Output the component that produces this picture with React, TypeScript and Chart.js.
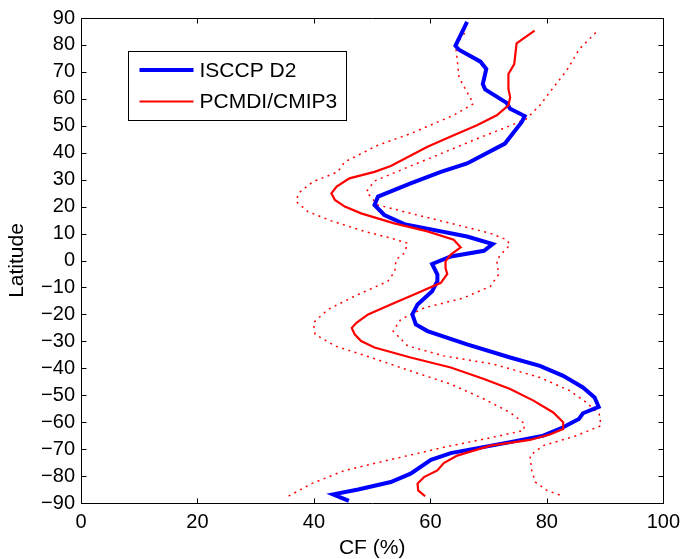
import React, { useEffect, useRef } from "react";
import { Chart, registerables } from "chart.js";

Chart.register(...registerables);

// ---------------- data ----------------
const seriesLabels = ["ISCCP D2", "PCMDI/CMIP3"];

const xTickValues = [0, 20, 40, 60, 80, 100];
const yTickValues = [-90, -80, -70, -60, -50, -40, -30, -20, -10, 0, 10, 20, 30, 40, 50, 60, 70, 80, 90];

// ISCCP D2 (blue, thick)
const isccpLat = [88.6, 79.7, 78.2, 73.8, 71.1, 65.5, 63.5, 58.5, 56.3, 53.6, 51.4, 43.4, 36.0, 32.9, 28.6, 23.7, 20.6, 16.9, 13.5, 8.9, 6.1, 3.6, 1.5, -1.3, -5.2, -7.7, -11.4, -16.3, -20.0, -23.7, -26.2, -31.1, -36.0, -39.1, -42.8, -47.1, -50.8, -54.3, -56.7, -58.8, -61.9, -65.0, -67.4, -71.5, -74.0, -79.1, -82.2, -85.0, -86.8, -89.2];
const isccpCF = [66.3, 64.3, 64.9, 68.6, 69.6, 69.0, 69.4, 73.1, 73.7, 76.2, 75.7, 72.8, 66.3, 61.8, 56.6, 51.0, 50.4, 52.1, 55.5, 66.3, 70.7, 69.2, 63.5, 60.3, 61.2, 61.2, 60.3, 57.8, 56.9, 57.5, 59.5, 66.3, 73.7, 78.8, 82.8, 86.2, 88.2, 88.9, 86.2, 85.5, 82.8, 79.4, 73.7, 63.5, 60.1, 56.6, 53.2, 47.6, 43.3, 46.0];

// PCMDI/CMIP3 multi-model mean (red solid)
const cmipLat = [85.3, 80.6, 72.9, 69.2, 63.7, 60.6, 57.6, 53.9, 50.2, 46.5, 42.2, 35.1, 32.9, 30.5, 27.4, 24.9, 22.5, 20.0, 17.5, 13.8, 10.8, 7.7, 4.9, 2.2, -0.3, -2.8, -5.0, -8.3, -12.6, -16.3, -20.0, -23.1, -25.0, -27.4, -29.9, -32.3, -36.0, -39.7, -44.0, -47.7, -52.0, -56.4, -60.0, -62.5, -64.6, -66.6, -68.7, -72.4, -75.2, -77.9, -80.4, -82.8, -85.3, -87.5];
const cmipCF = [77.9, 74.8, 74.4, 73.4, 73.4, 73.7, 73.4, 71.4, 68.0, 64.0, 59.5, 53.2, 50.4, 46.1, 43.9, 43.0, 43.6, 45.3, 48.1, 53.8, 59.5, 64.0, 65.2, 63.5, 62.6, 62.6, 62.9, 61.8, 57.2, 53.2, 49.3, 47.3, 46.5, 47.0, 48.1, 50.4, 56.6, 63.5, 69.2, 73.7, 77.7, 81.1, 82.8, 82.8, 80.5, 77.1, 70.3, 64.6, 62.3, 61.2, 58.9, 57.8, 57.9, 59.1];

// PCMDI/CMIP3 lower bound (red dotted)
const cmipLowLat = [84.4, 80.0, 74.8, 68.0, 61.3, 58.2, 53.9, 47.1, 42.8, 36.6, 32.9, 29.2, 24.9, 21.8, 18.1, 14.7, 10.8, 8.3, 6.4, 2.7, 0.3, -4.0, -7.7, -13.2, -18.2, -23.1, -27.4, -31.7, -36.0, -41.0, -45.9, -51.4, -56.4, -60.6, -63.1, -65.8, -69.3, -73.6, -77.9, -82.8, -87.5];
const cmipLowCF = [65.9, 64.3, 64.6, 64.9, 66.6, 67.4, 64.0, 56.6, 51.0, 45.3, 44.1, 39.8, 37.3, 37.0, 39.0, 43.0, 48.7, 53.2, 56.1, 55.5, 54.1, 53.9, 52.7, 47.0, 42.4, 39.9, 40.2, 43.6, 49.8, 56.6, 63.5, 69.2, 73.7, 76.2, 76.0, 70.3, 62.3, 53.8, 45.3, 39.6, 35.6];

// PCMDI/CMIP3 upper bound (red dotted)
const cmipHighLat = [84.6, 78.5, 70.5, 65.0, 57.6, 52.6, 49.5, 45.2, 39.1, 34.1, 29.5, 25.5, 20.6, 17.5, 13.8, 10.1, 7.7, 5.8, 3.4, 0.3, -5.2, -9.6, -13.9, -17.6, -21.9, -26.2, -31.7, -35.4, -38.5, -43.4, -48.3, -52.7, -57.0, -61.3, -65.0, -68.7, -72.4, -77.9, -82.2, -85.3, -87.5];
const cmipHighCF = [88.4, 85.6, 83.4, 81.4, 78.8, 76.5, 73.1, 68.0, 61.2, 55.5, 50.4, 49.0, 51.0, 56.6, 63.5, 70.3, 73.1, 73.7, 72.6, 71.4, 71.7, 70.3, 65.7, 58.9, 54.9, 53.6, 56.1, 62.3, 70.9, 78.8, 83.9, 86.8, 89.0, 89.3, 85.1, 79.4, 77.1, 77.4, 78.0, 80.0, 82.8];

// ---------------- helpers ----------------
const toPoints = (lat: number[], cf: number[]) => lat.map((y, i) => ({ x: cf[i], y }));

const FONT = "'Liberation Sans', Arial, Helvetica, sans-serif";
const BLUE = "#0000ff";
const RED = "#ff0000";

const frameAndTicks = {
  id: "frameAndTicks",
  afterDraw(chart: any) {
    const { ctx, chartArea, scales } = chart;
    const l = Math.round(chartArea.left) + 0.5;
    const r = Math.round(chartArea.right) + 0.5;
    const t = Math.round(chartArea.top) + 0.5;
    const b = Math.round(chartArea.bottom) + 0.5;
    const len = 5;
    ctx.save();
    ctx.strokeStyle = "#000";
    ctx.lineWidth = 1;
    ctx.beginPath();
    ctx.rect(l, t, r - l, b - t);
    ctx.stroke();
    ctx.beginPath();
    for (const tk of scales.x.ticks) {
      const px = Math.round(scales.x.getPixelForValue(tk.value)) + 0.5;
      ctx.moveTo(px, b);
      ctx.lineTo(px, b - len);
      ctx.moveTo(px, t);
      ctx.lineTo(px, t + len);
    }
    for (const tk of scales.y.ticks) {
      const py = Math.round(scales.y.getPixelForValue(tk.value)) + 0.5;
      ctx.moveTo(l, py);
      ctx.lineTo(l + len, py);
      ctx.moveTo(r, py);
      ctx.lineTo(r - len, py);
    }
    ctx.stroke();
    ctx.restore();
  },
};

const legendBox = {
  id: "legendBox",
  afterDraw(chart: any) {
    const { ctx, chartArea } = chart;
    const x0 = Math.round(chartArea.left + 47) + 0.5;
    const y0 = Math.round(chartArea.top + 33) + 0.5;
    const w = 218;
    const h = 69;
    ctx.save();
    ctx.fillStyle = "#fff";
    ctx.fillRect(x0, y0, w, h);
    ctx.strokeStyle = "#000";
    ctx.lineWidth = 1;
    ctx.strokeRect(x0, y0, w, h);
    const entries = [
      { label: seriesLabels[0], color: BLUE, width: 4, dy: 18.5 },
      { label: seriesLabels[1], color: RED, width: 2, dy: 50 },
    ];
    ctx.font = `21px ${FONT}`;
    ctx.textBaseline = "middle";
    ctx.textAlign = "left";
    for (const e of entries) {
      const y = y0 + e.dy;
      ctx.strokeStyle = e.color;
      ctx.lineWidth = e.width;
      ctx.beginPath();
      ctx.moveTo(x0 + 11, y);
      ctx.lineTo(x0 + 65, y);
      ctx.stroke();
      ctx.fillStyle = "#000";
      ctx.fillText(e.label, x0 + 71, y + 1);
    }
    ctx.restore();
  },
};

export default function App() {
  const canvasRef = useRef<HTMLCanvasElement | null>(null);

  useEffect(() => {
    if (!canvasRef.current) return;
    const chart = new Chart(canvasRef.current, {
      type: "scatter",
      data: {
        datasets: [
          {
            label: seriesLabels[1],
            data: toPoints(cmipLat, cmipCF),
            showLine: true,
            borderColor: RED,
            backgroundColor: RED,
            borderWidth: 2.2,
            pointRadius: 0,
            order: 0,
          },
          {
            label: seriesLabels[0],
            data: toPoints(isccpLat, isccpCF),
            showLine: true,
            borderColor: BLUE,
            backgroundColor: BLUE,
            borderWidth: 4,
            pointRadius: 0,
            order: 1,
          },
          {
            label: "lower",
            data: toPoints(cmipLowLat, cmipLowCF),
            showLine: true,
            borderColor: RED,
            borderWidth: 1.5,
            borderDash: [2, 4.5],
            pointRadius: 0,
            order: 2,
          },
          {
            label: "upper",
            data: toPoints(cmipHighLat, cmipHighCF),
            showLine: true,
            borderColor: RED,
            borderWidth: 1.5,
            borderDash: [2, 4.5],
            pointRadius: 0,
            order: 2,
          },
        ],
      },
      options: {
        animation: false,
        responsive: false,
        devicePixelRatio: 1,
        layout: { padding: { top: 15, right: 20, left: 0, bottom: 0 } },
        plugins: {
          legend: { display: false },
          tooltip: { enabled: false },
        },
        elements: { line: { tension: 0 } },
        scales: {
          x: {
            type: "linear",
            min: 0,
            max: 100,
            grid: { display: false, drawTicks: false },
            border: { display: false },
            afterBuildTicks: (scale: any) => {
              scale.ticks = xTickValues.map((v) => ({ value: v }));
            },
            afterFit: (scale: any) => {
              scale.height = 56;
            },
            ticks: {
              color: "#000",
              font: { family: FONT, size: 20 },
              padding: 7,
              maxRotation: 0,
              autoSkip: false,
            },
            title: {
              display: true,
              text: "CF (%)",
              color: "#000",
              font: { family: FONT, size: 21, lineHeight: 1 },
              padding: { top: 0, bottom: 0 },
            },
          },
          y: {
            type: "linear",
            min: -90,
            max: 90,
            grid: { display: false, drawTicks: false },
            border: { display: false },
            afterBuildTicks: (scale: any) => {
              scale.ticks = yTickValues.map((v) => ({ value: v }));
            },
            afterFit: (scale: any) => {
              scale.width = 81;
            },
            ticks: {
              color: "#000",
              font: { family: FONT, size: 20 },
              padding: 6,
              autoSkip: false,
              callback: (v: any) => String(v).replace("-", "\u2212"),
            },
            title: {
              display: true,
              text: "Latitude",
              color: "#000",
              font: { family: FONT, size: 21, lineHeight: 1 },
              padding: { top: 7, bottom: 0 },
            },
          },
        },
      },
      plugins: [frameAndTicks, legendBox],
    });
    return () => chart.destroy();
  }, []);

  return (
    <div style={{ position: "fixed", left: 0, top: 0, width: 687, height: 559, background: "#fff" }}>
      <canvas ref={canvasRef} width={687} height={559} style={{ display: "block" }} />
    </div>
  );
}
